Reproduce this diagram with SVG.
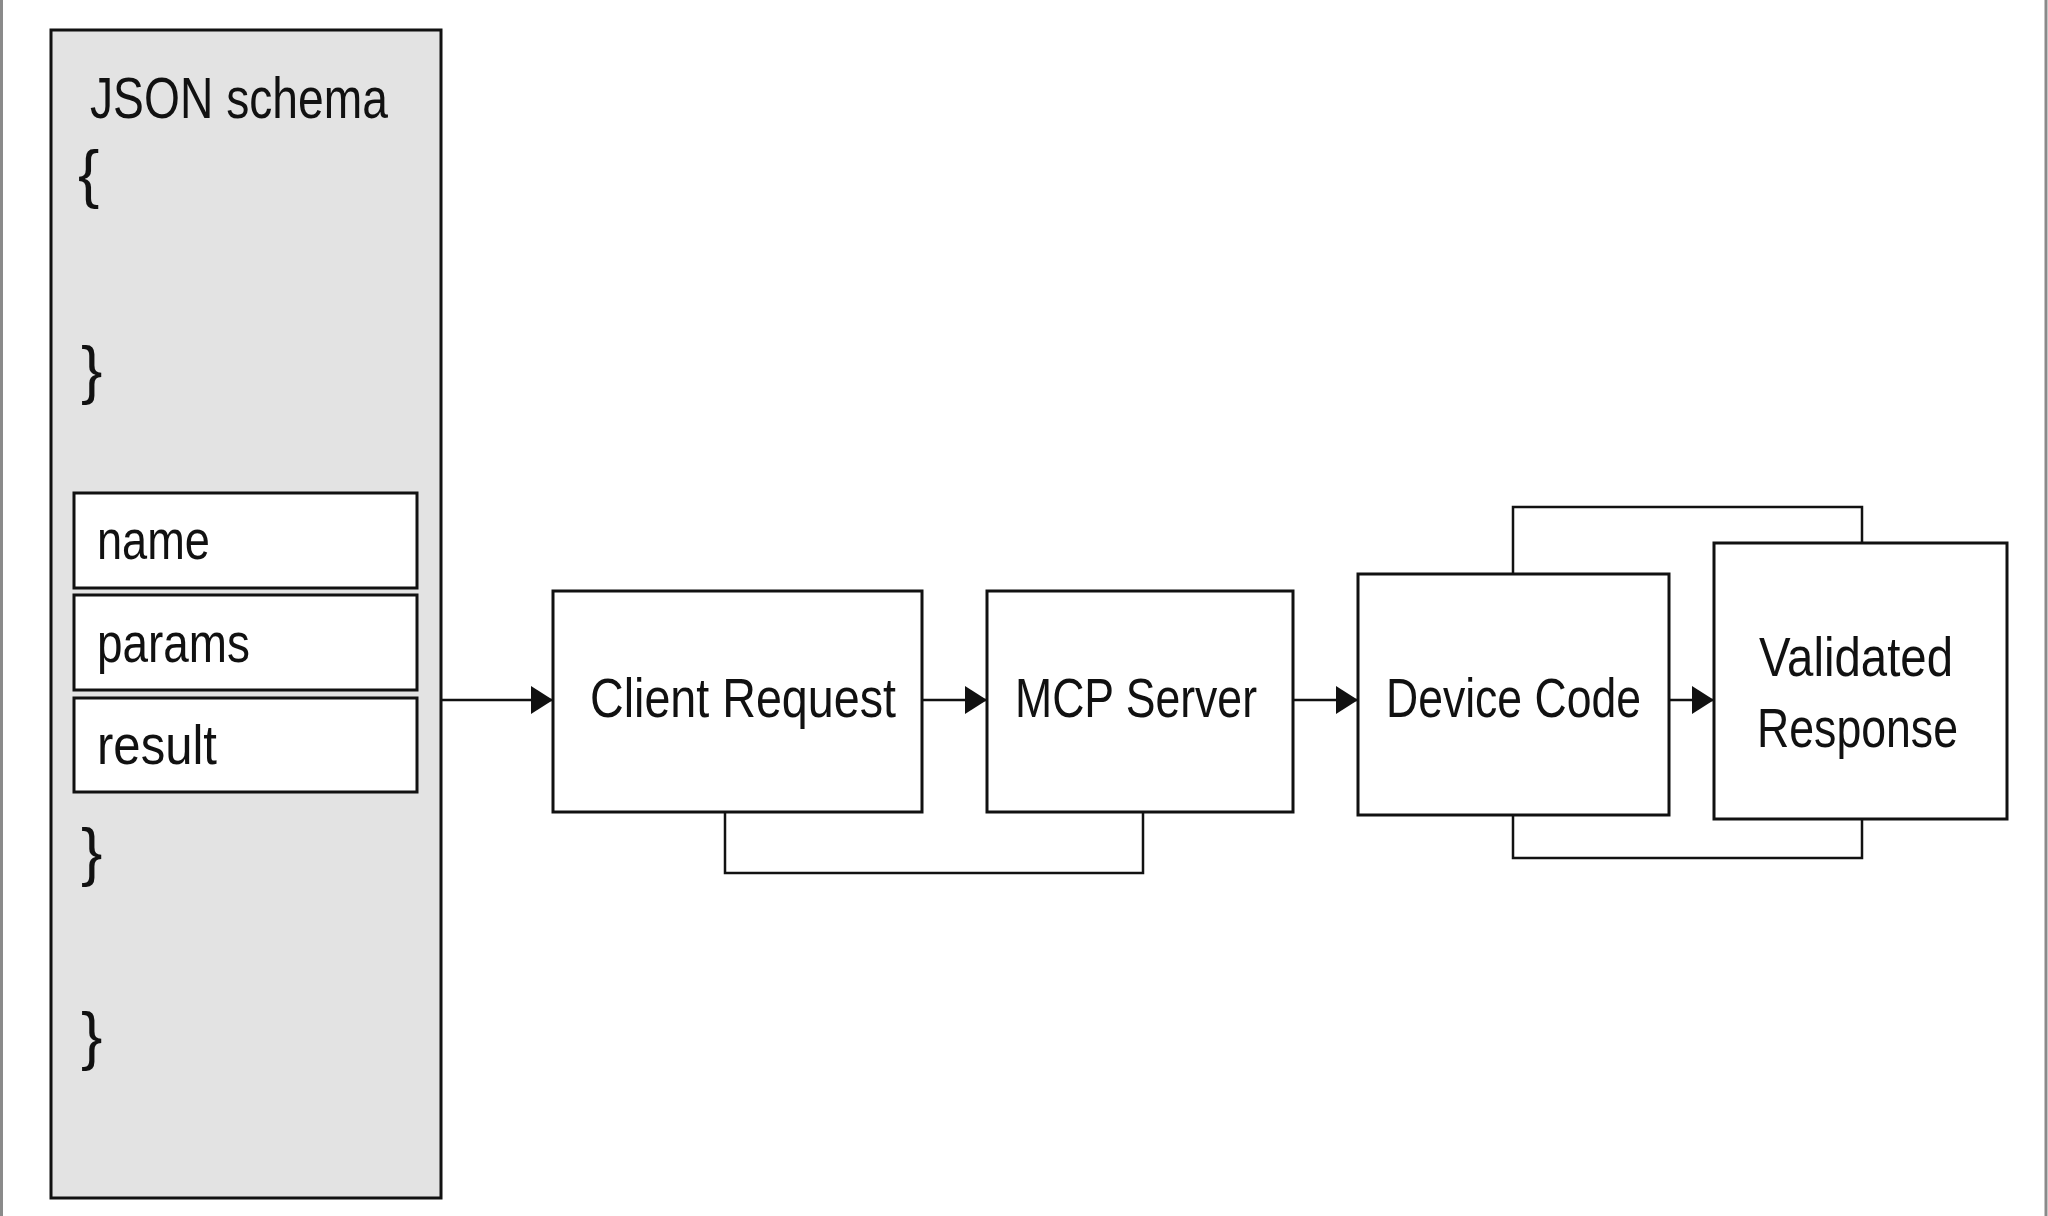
<svg xmlns="http://www.w3.org/2000/svg" width="2048" height="1216" viewBox="0 0 2048 1216">
<defs>
<style>
.bg{fill:#ffffff}
.frame{stroke:#8a8a8a;stroke-width:3}
.panel{fill:#e3e3e3;stroke:#111;stroke-width:3}
.field{fill:#ffffff;stroke:#111;stroke-width:3}
.node{fill:#ffffff;stroke:#111;stroke-width:3}
.conn{fill:none;stroke:#111;stroke-width:2.5}
.t{font-family:"Liberation Sans",Arial,sans-serif;fill:#111}
.lbl{font-size:56px}
.brace{font-size:64px}
</style>
<marker id="ah" markerUnits="userSpaceOnUse" markerWidth="22" markerHeight="28" refX="22" refY="14" orient="auto">
<path d="M0,0 L22,14 L0,28 z" fill="#111"/>
</marker>
</defs>
<rect class="bg" x="0" y="0" width="2048" height="1216"/>
<line class="frame" x1="1.5" y1="0" x2="1.5" y2="1216"/>
<line class="frame" x1="2046" y1="0" x2="2046" y2="1216"/>

<g id="schema-panel">
<rect class="panel" x="51" y="30" width="390" height="1168"/>
<text class="t" x="90" y="118" font-size="57" textLength="298" lengthAdjust="spacingAndGlyphs">JSON schema</text>
<text class="t brace" x="78" y="196">{</text>
<text class="t brace" x="81" y="392">}</text>
<text class="t brace" x="81" y="874">}</text>
<text class="t brace" x="81" y="1058">}</text>
</g>
<g id="field-name">
<rect class="field" x="74" y="493" width="343" height="95"/>
<text class="t lbl" x="97" y="559" textLength="113" lengthAdjust="spacingAndGlyphs">name</text>
</g>
<g id="field-params">
<rect class="field" x="74" y="595" width="343" height="95"/>
<text class="t lbl" x="97" y="662" textLength="153" lengthAdjust="spacingAndGlyphs">params</text>
</g>
<g id="field-result">
<rect class="field" x="74" y="698" width="343" height="94"/>
<text class="t lbl" x="97" y="764" textLength="120" lengthAdjust="spacingAndGlyphs">result</text>
</g>

<g id="client-request">
<rect class="node" x="553" y="591" width="369" height="221"/>
<text class="t lbl" x="590" y="717" textLength="306" lengthAdjust="spacingAndGlyphs">Client Request</text>
</g>
<g id="mcp-server">
<rect class="node" x="987" y="591" width="306" height="221"/>
<text class="t lbl" x="1015" y="717" textLength="242" lengthAdjust="spacingAndGlyphs">MCP Server</text>
</g>
<g id="device-code">
<rect class="node" x="1358" y="574" width="311" height="241"/>
<text class="t lbl" x="1386" y="717" textLength="255" lengthAdjust="spacingAndGlyphs">Device Code</text>
</g>
<g id="validated-response">
<rect class="node" x="1714" y="543" width="293" height="276"/>
<text class="t lbl" x="1759" y="676" textLength="194" lengthAdjust="spacingAndGlyphs">Validated</text>
<text class="t lbl" x="1757" y="747" textLength="201" lengthAdjust="spacingAndGlyphs">Response</text>
</g>

<g id="connectors">
<line class="conn" x1="441" y1="700" x2="553" y2="700" marker-end="url(#ah)"/>
<line class="conn" x1="922" y1="700" x2="987" y2="700" marker-end="url(#ah)"/>
<line class="conn" x1="1293" y1="700" x2="1358" y2="700" marker-end="url(#ah)"/>
<line class="conn" x1="1669" y1="700" x2="1714" y2="700" marker-end="url(#ah)"/>
<path class="conn" d="M725,812 V873 H1143 V812"/>
<path class="conn" d="M1513,574 V507 H1862 V543"/>
<path class="conn" d="M1513,815 V858 H1862 V819"/>
</g>
</svg>
